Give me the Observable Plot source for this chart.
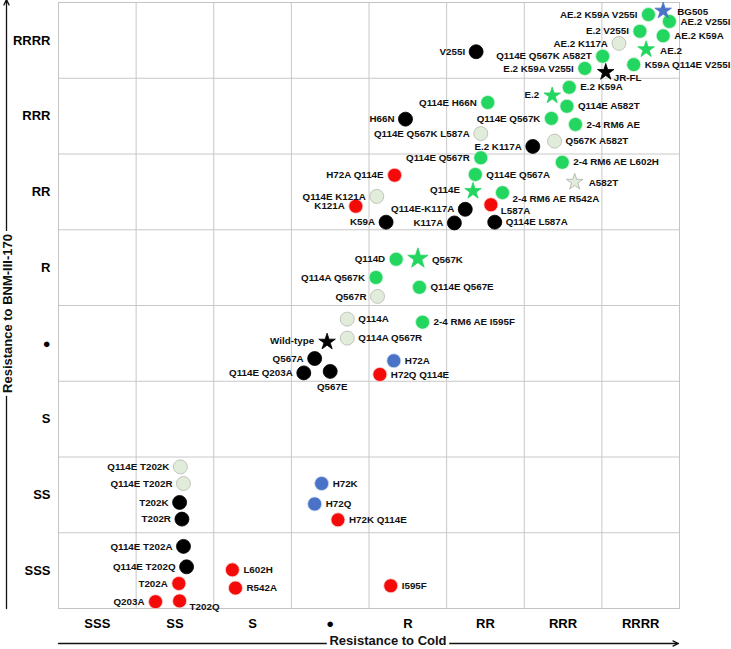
<!DOCTYPE html>
<html>
<head>
<meta charset="utf-8">
<script src="https://cdn.jsdelivr.net/npm/d3@7"></script>
<script src="https://cdn.jsdelivr.net/npm/@observablehq/plot@0.6"></script>
<style>
  html, body { margin: 0; padding: 0; background: #fff; }
  #chart svg { display: block; }
  #chart svg text { font-weight: bold; }
</style>
</head>
<body>
<div id="chart"></div>
<script>
// Tick labels (ordered low → high)
const xTickLabels = ["SSS", "SS", "S", "●", "R", "RR", "RRR", "RRRR"];
const yTickLabels = ["SSS", "SS", "S", "●", "R", "RR", "RRR", "RRRR"];
const xTitle = "Resistance to Cold";
const yTitle = "Resistance to BNM-III-170";

// Variants
const names = [
  "BG505", "AE.2 K59A V255I", "AE.2 V255I", "E.2 V255I", "AE.2 K59A", "AE.2 K117A", "AE.2",
  "Q114E Q567K A582T", "K59A Q114E V255I", "E.2 K59A V255I", "JR-FL", "V255I",
  "E.2", "E.2 K59A", "Q114E H66N", "Q114E A582T", "Q114E Q567K", "2-4 RM6 AE",
  "Q114E Q567K L587A", "Q567K A582T", "E.2 K117A", "H66N",
  "Q114E Q567R", "2-4 RM6 AE L602H", "H72A Q114E", "Q114E Q567A", "A582T", "Q114E",
  "2-4 RM6 AE R542A", "Q114E K121A", "L587A", "K121A", "Q114E-K117A", "K59A", "K117A", "Q114E L587A",
  "Q114D", "Q567K", "Q114A Q567K", "Q114E Q567E", "Q567R",
  "Q114A", "2-4 RM6 AE I595F", "Q114A Q567R", "Wild-type", "Q567A", "H72A", "Q114E Q203A", "Q567E", "H72Q Q114E",
  "Q114E T202K", "Q114E T202R", "T202K", "T202R", "Q114E T202A", "Q114E T202Q", "T202A", "Q203A", "T202Q",
  "H72K", "H72Q", "H72K Q114E", "L602H", "R542A", "I595F"
];
// Resistance to cold (0 = left edge of SSS, 8 = right edge of RRRR)
const coldValues = [
  7.79, 7.60, 7.87, 7.49, 7.79, 7.22, 7.57,
  7.01, 7.41, 6.78, 7.05, 5.38,
  6.36, 6.58, 5.53, 6.55, 6.35, 6.66,
  5.44, 6.39, 6.11, 4.47,
  5.44, 6.49, 4.33, 5.37, 6.65, 5.34,
  5.72, 4.10, 5.57, 3.83, 5.24, 4.22, 5.10, 5.62,
  4.35, 4.63, 4.09, 4.65, 4.11,
  3.72, 4.69, 3.72, 3.46, 3.30, 4.32, 3.16, 3.50, 4.14,
  1.57, 1.61, 1.56, 1.59, 1.61, 1.65, 1.55, 1.25, 1.56,
  3.39, 3.30, 3.60, 2.24, 2.28, 4.28
];
// Resistance to BNM-III-170 (0 = bottom of SSS, 8 = top of RRRR)
const bnmValues = [
  7.89, 7.84, 7.75, 7.62, 7.56, 7.46, 7.38,
  7.29, 7.18, 7.13, 7.08, 7.35,
  6.77, 6.88, 6.68, 6.63, 6.47, 6.39,
  6.27, 6.17, 6.10, 6.46,
  5.95, 5.89, 5.72, 5.73, 5.63, 5.51,
  5.49, 5.44, 5.33, 5.31, 5.27, 5.10, 5.09, 5.10,
  4.61, 4.62, 4.37, 4.24, 4.12,
  3.82, 3.78, 3.57, 3.52, 3.30, 3.27, 3.11, 3.13, 3.09,
  1.87, 1.65, 1.40, 1.18, 0.82, 0.55, 0.33, 0.09, 0.10,
  1.65, 1.38, 1.17, 0.51, 0.27, 0.30
];
// Group of each variant
const groups = [
  "blue", "green", "green", "green", "green", "pale", "green",
  "green", "green", "green", "black", "black",
  "green", "green", "green", "green", "green", "green",
  "pale", "pale", "black", "black",
  "green", "green", "red", "green", "pale", "green",
  "green", "pale", "red", "red", "black", "black", "black", "black",
  "green", "green", "green", "green", "pale",
  "pale", "green", "pale", "black", "black", "blue", "black", "black", "red",
  "pale", "pale", "black", "black", "black", "black", "red", "red", "red",
  "blue", "blue", "red", "red", "red", "red"
];
// Marker kind: reference strains / parental envelopes are stars
const markers = [
  "star", "circle", "circle", "circle", "circle", "circle", "star",
  "circle", "circle", "circle", "star", "circle",
  "star", "circle", "circle", "circle", "circle", "circle",
  "circle", "circle", "circle", "circle",
  "circle", "circle", "circle", "circle", "star", "star",
  "circle", "circle", "circle", "circle", "circle", "circle", "circle", "circle",
  "circle", "bigstar", "circle", "circle", "circle",
  "circle", "circle", "circle", "star", "circle", "circle", "circle", "circle", "circle",
  "circle", "circle", "circle", "circle", "circle", "circle", "circle", "circle", "circle",
  "circle", "circle", "circle", "circle", "circle", "circle"
];
// Which side of the marker the label sits on
const labelSides = [
  "R", "L", "R", "L", "R", "L", "R",
  "L", "R", "L", "RB", "L",
  "L", "R", "L", "R", "L", "R",
  "L", "R", "L", "L",
  "L", "R", "L", "R", "R", "L",
  "RB", "L", "RB", "L", "L", "L", "L", "R",
  "L", "R", "L", "R", "L",
  "R", "R", "R", "L", "L", "R", "L", "B", "R",
  "L", "L", "L", "L", "L", "L", "L", "L", "RB",
  "R", "R", "R", "R", "R", "R"
];

const data = names.map((name, i) => ({
  name, cold: coldValues[i], bnm: bnmValues[i],
  group: groups[i], marker: markers[i], side: labelSides[i]
}));

const fills = { green: "#22d65f", black: "#000000", red: "#f50a0a", blue: "#4a72c6", pale: "#e2ecda" };
const strokes = { green: "#d8f5e0", black: "#000000", red: "#ffd0d0", blue: "#cfd9ef", pale: "#b4b9b0" };

const isStar = d => d.marker !== "circle";
const labelStyle = {
  x: "cold", y: "bnm", text: "name",
  fontSize: 9.8, fontWeight: "bold", fill: "#111",
  fontFamily: "Liberation Sans, Arial, sans-serif"
};
function labels(side, star, anchor, dx, dy) {
  return Plot.text(data, {
    ...labelStyle,
    filter: d => d.side === side && isStar(d) === star,
    textAnchor: anchor, dx, dy
  });
}

const chart = Plot.plot({
  width: 731,
  height: 649,
  marginLeft: 58,
  marginRight: 52,
  marginTop: 2,
  marginBottom: 41,
  style: { fontFamily: "Liberation Sans, Arial, sans-serif", background: "#fff", overflow: "visible" },
  x: { domain: [0, 8] },
  y: { domain: [0, 8] },
  marks: [
    Plot.ruleX(d3.range(1, 8), { stroke: "#c8c8c8", strokeWidth: 1 }),
    Plot.ruleY(d3.range(1, 8), { stroke: "#c8c8c8", strokeWidth: 1 }),
    Plot.frame({ stroke: "#c4c4c4", strokeWidth: 1 }),
    Plot.axisX({
      ticks: d3.range(0.5, 8, 1),
      tickFormat: d => xTickLabels[Math.floor(d)],
      tickSize: 0, tickPadding: 10, fontSize: 13, fontWeight: "bold", label: null
    }),
    Plot.axisY({
      ticks: d3.range(0.5, 8, 1),
      tickFormat: d => yTickLabels[Math.floor(d)],
      tickSize: 0, tickPadding: 8, fontSize: 13, fontWeight: "bold", label: null
    }),
    // Axis arrows
    Plot.arrow([0], { x1: 0, x2: 8, y1: 0, y2: 0, dy: 35, insetEnd: 1, stroke: "#111", strokeWidth: 1.3, headLength: 7, headAngle: 50 }),
    Plot.arrow([0], { x1: 0, x2: 0, y1: 0, y2: 8, dx: -52, insetEnd: -3, stroke: "#111", strokeWidth: 1.3, headLength: 7, headAngle: 50 }),
    Plot.text([xTitle], {
      frameAnchor: "bottom", dy: 36, dx: 19, text: d => d, textAnchor: "middle",
      fontSize: 13, fontWeight: "bold", fill: "#111", stroke: "#fff", strokeWidth: 7, strokeLinejoin: "round", paintOrder: "stroke"
    }),
    Plot.text([yTitle], {
      frameAnchor: "left", dx: -51, dy: 8, rotate: -90, text: d => d, textAnchor: "middle",
      fontSize: 13, fontWeight: "bold", fill: "#111", stroke: "#fff", strokeWidth: 7, strokeLinejoin: "round", paintOrder: "stroke"
    }),
    // Markers
    Plot.dot(data, {
      filter: d => d.marker === "circle",
      x: "cold", y: "bnm", r: 7,
      fill: d => fills[d.group], stroke: d => strokes[d.group], strokeWidth: 0.8
    }),
    Plot.dot(data, {
      filter: d => d.marker === "star",
      x: "cold", y: "bnm", r: 5.2, symbol: "star",
      fill: d => fills[d.group], stroke: d => d.group === "pale" ? "#a9aea5" : fills[d.group], strokeWidth: 0.8
    }),
    Plot.dot(data, {
      filter: d => d.marker === "bigstar",
      x: "cold", y: "bnm", r: 6.4, symbol: "star",
      fill: d => fills[d.group], stroke: d => fills[d.group], strokeWidth: 0.8
    }),
    // Labels
    labels("L", false, "end", -11, 0),
    labels("R", false, "start", 11, 0),
    labels("RB", false, "start", 10, 6),
    labels("B", false, "middle", 2, 15),
    labels("L", true, "end", -13, -1),
    labels("R", true, "start", 14, 1),
    labels("RB", true, "start", 8, 6)
  ]
});
document.getElementById("chart").appendChild(chart);
</script>
</body>
</html>
